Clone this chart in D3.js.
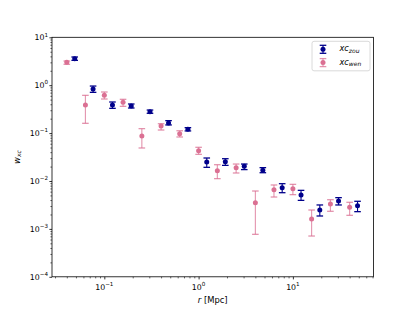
<!DOCTYPE html>
<html lang="en">
<head>
	<meta charset="utf-8">
	<script src="https://d3js.org/d3.v7.min.js"></script>
	<style>
		body { margin: 0; background: #fff; }
		text { font-family: "DejaVu Sans", sans-serif; }
	</style>
</head>
<body>
	<div id="chart"></div>
<script>

// xc_zou sample
var rZou  = [0.0485, 0.076, 0.122, 0.193, 0.305, 0.48, 0.77, 1.22, 1.92, 3.05, 4.8, 7.7, 12.2, 19.3, 30.5, 48.5];
var wZou  = [3.57, 0.83, 0.386, 0.368, 0.28, 0.163, 0.12, 0.0249, 0.0253, 0.0203, 0.0167, 0.00724, 0.0051, 0.00248, 0.00382, 0.00305];
var zouHi = [3.88, 0.96, 0.446, 0.405, 0.303, 0.182, 0.130, 0.0302, 0.0292, 0.0226, 0.0190, 0.00879, 0.00638, 0.00316, 0.00449, 0.00377];
var zouLo = [3.30, 0.71, 0.329, 0.334, 0.259, 0.148, 0.111, 0.0193, 0.0212, 0.0173, 0.0149, 0.00570, 0.00394, 0.00186, 0.00316, 0.00229];

// xc_wen sample
var rWen  = [0.040, 0.063, 0.100, 0.158, 0.25, 0.40, 0.63, 1.0, 1.58, 2.5, 4.0, 6.3, 10.0, 15.8, 25, 40];
var wWen  = [3.0, 0.386, 0.62, 0.44, 0.087, 0.14, 0.097, 0.043, 0.0164, 0.019, 0.00352, 0.0066, 0.0069, 0.00161, 0.0033, 0.00283];
var wenHi = [3.20, 0.614, 0.721, 0.507, 0.124, 0.157, 0.112, 0.0505, 0.0219, 0.0226, 0.00618, 0.00826, 0.00851, 0.00248, 0.00407, 0.00359];
var wenLo = [2.73, 0.160, 0.515, 0.362, 0.0489, 0.116, 0.083, 0.0360, 0.0112, 0.0147, 0.00077, 0.00463, 0.00519, 0.00071, 0.00233, 0.00192];

var xMajor = [0.1, 1, 10];
var yMajor = [1e-4, 1e-3, 1e-2, 1e-1, 1, 10];
var xExp = ["\u22121", "0", "1"];
var yExp = ["\u22124", "\u22123", "\u22122", "\u22121", "0", "1"];

var navy = "#00008b", pink = "#db7093";

var W = 415, H = 311;
var margin = {top: 37.3, right: 41.5, bottom: 34.2, left: 52};
var width = W - margin.left - margin.right,
    height = H - margin.top - margin.bottom;

var svg = d3.select("#chart")
  .append("svg")
    .attr("width", W)
    .attr("height", H);

var g = svg.append("g")
    .attr("transform", "translate(" + margin.left + "," + margin.top + ")");

var x = d3.scaleLog()
  .domain([Math.pow(10, -1.555), Math.pow(10, 1.855)])
  .range([0, width]);

var y = d3.scaleLog()
  .domain([1e-4, 10])
  .range([height, 0]);

function isMajor(v) {
  var l = Math.log10(v);
  return Math.abs(l - Math.round(l)) < 1e-6;
}

// x axis ticks
var xMinor = x.ticks().filter(function(v) { return !isMajor(v); });
g.append("g")
  .attr("transform", "translate(0," + height + ")")
  .call(d3.axisBottom(x).tickValues(xMinor).tickSize(1.6).tickFormat(""))
  .call(function(a) { a.select(".domain").remove(); a.selectAll("line").attr("stroke-width", 0.6); });
g.append("g")
  .attr("transform", "translate(0," + height + ")")
  .call(d3.axisBottom(x).tickValues(xMajor).tickSize(2.6).tickFormat(""))
  .call(function(a) { a.select(".domain").remove(); a.selectAll("line").attr("stroke-width", 0.8); });

// y axis ticks
var yMinor = y.ticks().filter(function(v) { return !isMajor(v); });
g.append("g")
  .call(d3.axisLeft(y).tickValues(yMinor).tickSize(1.6).tickFormat(""))
  .call(function(a) { a.select(".domain").remove(); a.selectAll("line").attr("stroke-width", 0.6); });
g.append("g")
  .call(d3.axisLeft(y).tickValues(yMajor).tickSize(2.6).tickFormat(""))
  .call(function(a) { a.select(".domain").remove(); a.selectAll("line").attr("stroke-width", 0.8); });

// tick labels 10^n
xMajor.forEach(function(v, i) {
  var t = g.append("text")
    .attr("x", x(v))
    .attr("y", height + 13)
    .attr("text-anchor", "middle")
    .style("font-size", "7.8px");
  t.append("tspan").text("10");
  t.append("tspan").attr("dy", -3.5).style("font-size", "5.6px").text(xExp[i]);
});
yMajor.forEach(function(v, i) {
  var t = g.append("text")
    .attr("x", -4)
    .attr("y", y(v) + 2.8)
    .attr("text-anchor", "end")
    .style("font-size", "7.8px");
  t.append("tspan").text("10");
  t.append("tspan").attr("dy", -3.5).style("font-size", "5.6px").text(yExp[i]);
});

// axis titles
var xl = svg.append("text")
  .attr("x", margin.left + width / 2)
  .attr("y", 302.5)
  .attr("text-anchor", "middle")
  .style("font-size", "8.4px");
xl.append("tspan").style("font-style", "italic").text("r");
xl.append("tspan").text(" [Mpc]");

var yl = svg.append("text")
  .attr("transform", "translate(19.5," + (margin.top + height / 2) + ") rotate(-90)")
  .attr("text-anchor", "middle")
  .style("font-size", "8.4px")
  .style("font-style", "italic");
yl.append("tspan").text("w");
yl.append("tspan").attr("dy", 1.9).style("font-size", "6px").text("xc");

// error bars + markers
function drawSeries(rs, ws, lo, hi, color, barOpacity) {
  var data = rs.map(function(r, i) { return {r: r, w: ws[i], lo: lo[i], hi: hi[i]}; });
  var s = g.append("g");
  var cap = 3.3;
  s.selectAll(".bar").data(data).enter().append("line")
    .attr("x1", function(d) { return x(d.r); })
    .attr("x2", function(d) { return x(d.r); })
    .attr("y1", function(d) { return y(d.hi); })
    .attr("y2", function(d) { return y(d.lo); })
    .attr("stroke", color).attr("stroke-width", 1.1).attr("opacity", barOpacity);
  ["hi", "lo"].forEach(function(k) {
    s.selectAll(".cap" + k).data(data).enter().append("line")
      .attr("x1", function(d) { return x(d.r) - cap; })
      .attr("x2", function(d) { return x(d.r) + cap; })
      .attr("y1", function(d) { return y(d[k]); })
      .attr("y2", function(d) { return y(d[k]); })
      .attr("stroke", color).attr("stroke-width", 1.3).attr("opacity", barOpacity);
  });
  s.selectAll("circle").data(data).enter().append("circle")
    .attr("cx", function(d) { return x(d.r); })
    .attr("cy", function(d) { return y(d.w); })
    .attr("r", 2.5)
    .attr("fill", color);
}
drawSeries(rWen, wWen, wenLo, wenHi, pink, 0.75);
drawSeries(rZou, wZou, zouLo, zouHi, navy, 1);

// frame
g.append("rect")
  .attr("width", width).attr("height", height)
  .attr("fill", "none").attr("stroke", "#000").attr("stroke-width", 0.8);

// legend
var lg = g.append("g").attr("transform", "translate(" + (width - 61.5) + ",4)");
lg.append("rect")
  .attr("width", 58).attr("height", 29.5).attr("rx", 2)
  .attr("fill", "#fff").attr("fill-opacity", 0.8)
  .attr("stroke", "#d0d0d0").attr("stroke-width", 0.8);
var legItems = [
  {color: navy, op: 1, name: "zou"},
  {color: pink, op: 0.75, name: "wen"}
];
legItems.forEach(function(d, i) {
  var cy = 8 + i * 13.3;
  var row = lg.append("g").attr("transform", "translate(11," + cy + ")");
  row.append("line").attr("y1", -4).attr("y2", 4).attr("stroke", d.color).attr("stroke-width", 1.1).attr("opacity", d.op);
  [-4, 4].forEach(function(cyy) {
    row.append("line").attr("x1", -3.3).attr("x2", 3.3).attr("y1", cyy).attr("y2", cyy)
      .attr("stroke", d.color).attr("stroke-width", 1.3).attr("opacity", d.op);
  });
  row.append("circle").attr("r", 2.5).attr("fill", d.color);
  var t = lg.append("text")
    .attr("x", 27.5).attr("y", cy + 2)
    .style("font-size", "8.2px").style("font-style", "italic");
  t.append("tspan").text("xc");
  t.append("tspan").attr("dy", 1.9).style("font-size", "6px").text(d.name);
});

</script>
</body>
</html>
